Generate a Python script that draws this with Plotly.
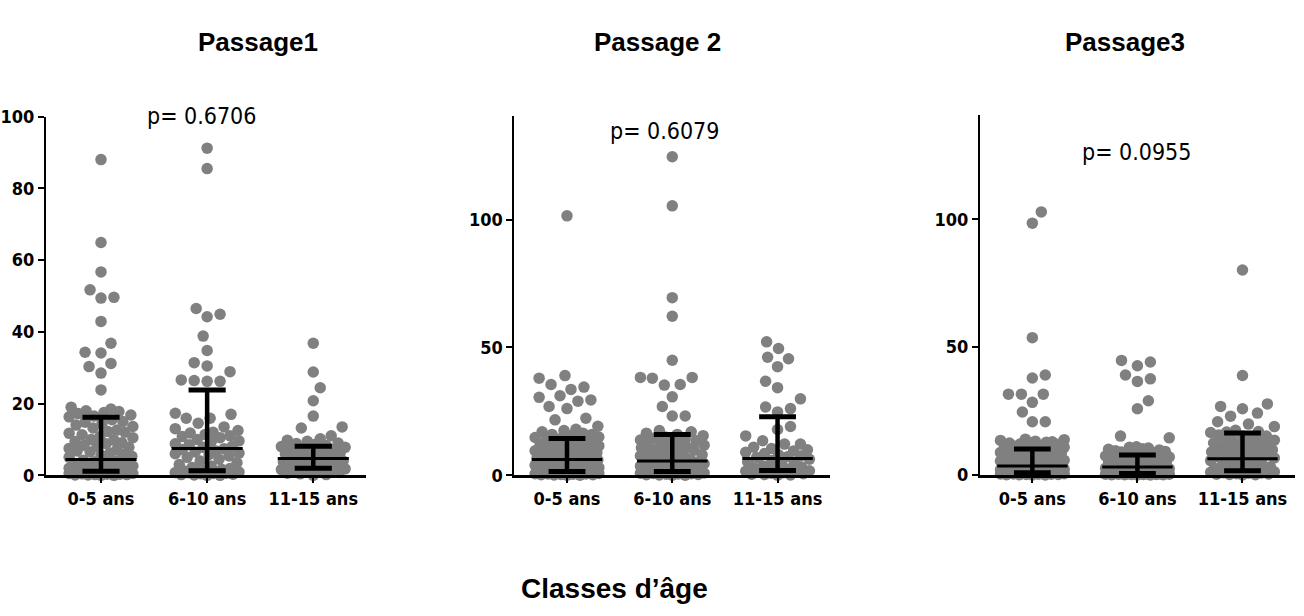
import numpy as np
import plotly.graph_objects as go

categories = ["0-5 ans", "6-10 ans", "11-15 ans"]
panel_titles = ["Passage1", "Passage 2", "Passage3"]
p_values = ["p= 0.6706", "p= 0.6079", "p= 0.0955"]
x_title = "Classes d’âge"

# ---- Passage 1 ----
p1_0_5 = [88.0, 64.9, 56.7, 51.7, 49.6, 49.4, 42.9, 36.8, 34.3, 34.1, 31.2, 30.3, 28.5, 23.8,
          19.0, 18.5, 18.0, 17.8, 17.5, 17.2, 16.8, 16.5, 16.3,
          15.5, 15.0, 14.8, 14.4, 14.0, 13.6, 13.2, 12.6, 12.2, 12.0, 11.7, 11.3, 10.8, 10.5, 10.0,
          9.8, 9.4, 9.1, 8.8, 8.4, 8.0, 7.8, 7.5, 7.1, 6.8, 6.5, 6.2, 5.9, 5.6, 5.3, 5.0,
          4.2, 4.0, 3.8, 3.5, 3.2, 3.0, 2.8, 2.6, 2.4, 2.2, 2.0, 1.9, 1.8, 1.6, 1.5, 1.4, 1.3, 1.2,
          1.0, 1.0, 0.9, 0.8, 0.8, 0.7, 0.6, 0.5, 0.5, 0.4, 0.3, 0.3, 0.2, 0.2, 0.1, 0.1, 0.0, 0.0]
p1_6_10 = [91.2, 85.5, 46.5, 44.9, 44.2, 38.8, 34.8, 31.4, 30.5, 28.9, 26.6, 26.4, 26.2, 26.2,
           17.3, 17.0, 15.9, 15.9, 14.5, 13.5, 13.0, 12.5, 12.0, 11.8, 11.4, 11.0, 10.8, 10.5, 10.0,
           9.6, 9.2, 8.8, 8.5, 8.0, 7.8, 7.4,
           7.2, 6.8, 6.5, 6.2, 6.0, 5.8, 5.4, 5.0, 4.5, 4.0, 3.5, 3.0, 2.6, 2.2, 1.9, 1.6, 1.4,
           1.2, 1.1, 1.0, 0.9, 0.8, 0.7, 0.6, 0.5, 0.4, 0.3, 0.2, 0.1, 0.0, 0.0]
p1_11_15 = [36.8, 28.8, 24.4, 20.8, 16.5, 13.5, 13.2, 11.0, 10.2, 9.8, 9.5, 9.0, 8.9, 8.6, 8.3,
            8.0, 7.8, 7.6, 7.5, 7.2, 7.0, 6.9, 6.5, 6.2, 6.0, 5.7, 5.4, 5.1, 4.9,
            4.5, 4.3, 4.0, 3.8, 3.5, 3.2, 3.0, 2.8, 2.6, 2.4, 2.2, 2.1,
            1.9, 1.8, 1.6, 1.5, 1.3, 1.1, 1.0, 0.8, 0.6, 0.4, 0.2, 0.0]

# ---- Passage 2 ----
p2_0_5 = [101.5, 39.0, 38.0, 35.5, 34.5, 33.6, 31.1, 30.5, 29.5, 29.0, 26.9, 26.1, 22.3, 21.7, 19.2,
          18.0, 17.5, 17.0, 16.5, 16.0, 16.0, 15.5, 15.0, 14.8,
          14.2, 13.8, 13.6, 13.3, 13.0, 12.8, 12.4, 12.2, 12.0, 11.5, 11.2, 11.0, 10.6, 10.4, 10.2,
          9.8, 9.6, 9.4, 9.0, 8.8, 8.5, 8.2, 8.0, 7.6, 7.4, 7.2, 7.0, 6.8, 6.4,
          6.0, 5.7, 5.4, 5.1, 4.8, 4.5, 4.2, 3.9, 3.6, 3.3, 3.0, 2.8, 2.6, 2.4, 2.2, 2.0, 1.8, 1.7, 1.6,
          1.4, 1.3, 1.2, 1.1, 1.0, 1.0, 0.9, 0.8, 0.7, 0.6, 0.5, 0.5, 0.4, 0.3, 0.2, 0.2, 0.1, 0.0, 0.0]
p2_6_10 = [124.6, 105.4, 69.5, 62.2, 45.0, 38.3, 38.3, 38.0, 35.5, 35.3, 30.7, 26.9, 23.2, 23.2,
           17.5, 17.0, 16.5, 16.0,
           15.5, 15.0, 14.6, 14.2, 13.8, 13.5, 13.0, 12.8, 12.4, 12.0, 11.8, 11.0, 10.8, 10.4, 10.0,
           9.8, 9.4, 9.0, 8.6, 8.4, 8.0, 7.6, 7.2, 7.0, 6.4, 5.9,
           5.4, 5.1, 4.8, 4.5, 4.2, 3.9, 3.6, 3.3, 3.0, 2.7, 2.4, 2.2, 2.0, 1.8, 1.7, 1.6,
           1.4, 1.3, 1.2, 1.1, 1.0, 0.9, 0.8, 0.7, 0.6, 0.5, 0.4, 0.3, 0.2, 0.1, 0.0, 0.0]
p2_11_15 = [52.2, 49.6, 46.2, 45.6, 42.5, 36.8, 34.3, 29.9, 26.7, 26.1, 24.8,
            19.1, 17.9, 15.4, 13.5, 12.2, 12.2, 11.0, 10.5, 10.0, 9.5, 9.0, 8.5, 8.0, 7.6, 7.3, 7.0,
            6.3, 5.8, 5.2, 4.7, 4.2, 3.7, 3.3, 2.9, 2.5, 2.2, 2.0,
            1.8, 1.6, 1.4, 1.2, 1.0, 0.8, 0.6, 0.4, 0.3, 0.1, 0.0]

# ---- Passage 3 ----
p3_0_5 = [102.9, 98.5, 53.7, 39.1, 37.9, 31.6, 31.6, 31.6, 28.4, 24.6, 20.8, 20.8,
          14.0, 13.8, 13.5, 13.2, 13.0, 12.8, 12.5, 12.2, 12.0, 11.8, 11.5, 11.2, 11.0, 10.8, 10.5, 10.2,
          10.0, 9.6, 9.4, 9.2, 8.8, 8.6, 8.4, 8.0, 7.8, 7.6, 7.2, 7.0, 6.8, 6.4, 6.2, 6.0, 5.7, 5.4, 5.1,
          4.8, 4.5, 4.2, 4.0, 3.8, 3.6,
          3.4, 3.2, 3.0, 2.9, 2.7, 2.5, 2.4, 2.2, 2.0, 1.9, 1.8, 1.6, 1.5, 1.4, 1.3, 1.2, 1.1, 1.0, 1.0, 0.95,
          0.9, 0.85, 0.8, 0.75, 0.7, 0.65, 0.6, 0.55, 0.5, 0.45, 0.4, 0.35, 0.3, 0.25, 0.2, 0.15, 0.1, 0.05, 0.0, 0.0]
p3_6_10 = [44.8, 44.2, 42.7, 39.1, 37.6, 36.6, 29.0, 25.9, 15.2, 14.5,
           11.0, 10.8, 10.5, 10.2, 10.0, 9.8, 9.5, 9.2, 9.0, 8.8, 8.5, 8.2, 8.0,
           7.6, 7.4, 7.3, 7.0, 6.8, 6.7, 6.4, 6.1, 6.0, 5.8, 5.5, 5.2, 4.9, 4.6, 4.3, 4.0, 3.8, 3.6, 3.4, 3.2,
           3.0, 2.8, 2.6, 2.4, 2.2, 2.0, 1.9, 1.7, 1.6, 1.4, 1.3, 1.2, 1.0, 0.9, 0.8, 0.7, 0.65,
           0.55, 0.5, 0.45, 0.4, 0.4, 0.35, 0.3, 0.3, 0.25, 0.2, 0.2, 0.15, 0.1, 0.1, 0.05, 0.0, 0.0]
p3_11_15 = [80.2, 38.9, 27.8, 26.8, 25.9, 24.2, 23.0, 20.8, 19.9, 18.9, 17.5, 17.0, 16.8, 16.6,
            15.6, 15.2, 15.2, 14.6, 14.0, 13.6, 13.2, 12.8, 12.5, 12.0, 11.8, 11.4, 11.0, 10.6, 10.3,
            9.8, 9.6, 9.2, 9.0, 8.6, 8.3, 8.0, 7.7, 7.4, 7.1, 6.6,
            6.0, 5.6, 5.2, 4.8, 4.4, 4.0, 3.6, 3.2, 2.9, 2.6, 2.3, 2.0, 1.8, 1.7,
            1.5, 1.4, 1.3, 1.2, 1.0, 0.9, 0.8, 0.7, 0.5, 0.4, 0.3, 0.2, 0.1, 0.0]

# Median and interquartile range
median_p1 = [4.4, 7.5, 4.7]
q1_p1 = [1.1, 1.3, 2.0]
q3_p1 = [16.2, 23.8, 8.1]
median_p2 = [6.2, 5.6, 6.6]
q1_p2 = [1.5, 1.5, 1.9]
q3_p2 = [14.4, 16.0, 22.9]
median_p3 = [3.5, 3.1, 6.3]
q1_p3 = [0.9, 0.6, 1.6]
q3_p3 = [10.1, 7.8, 16.4]

yticks_p1 = [0, 20, 40, 60, 80, 100]
yticks_p23 = [0, 50, 100]

panels = [
    dict(groups=[p1_0_5, p1_6_10, p1_11_15], med=median_p1, q1=q1_p1, q3=q3_p1, yticks=yticks_p1, ymax=100),
    dict(groups=[p2_0_5, p2_6_10, p2_11_15], med=median_p2, q1=q1_p2, q3=q3_p2, yticks=yticks_p23, ymax=140.7),
    dict(groups=[p3_0_5, p3_6_10, p3_11_15], med=median_p3, q1=q1_p3, q3=q3_p3, yticks=yticks_p23, ymax=140.7),
]

# ---------------- layout geometry (pixels) ----------------
W, H = 1304, 616
px_x = [(40, 362), (510.7, 828), (978.3, 1295)]
px_y = [(480.7, 109.3), (480.7, 108.3), (480.3, 108.0)]
xranges = [[-0.52, 2.50], [-0.50, 2.50], [-0.50, 2.50]]

def fx(p):
    return p / W

def fy(p):
    return (H - p) / H


def swarm_offsets(values, ppy, ppx, d=12.5, half_w=32, ystretch=0.8):
    """Deterministic beeswarm: x offsets (in axis units) computed from values."""
    vals = np.asarray(values, dtype=float)
    order = np.argsort(vals, kind="stable")
    cands = [0]
    for k in range(1, half_w + 1):
        cands += [k, -k] if k % 2 else [-k, k]
    placed = []
    offs = np.zeros(len(vals))
    for i in order:
        y = vals[i] * ppy
        near = [(px, py) for px, py in placed if abs(py - y) * ystretch < d]
        best_c, best_d = 0, -1.0
        chosen = None
        for c in cands:
            md = min((np.hypot(c - px, (y - py) * ystretch) for px, py in near), default=1e9)
            if md >= d:
                chosen = c
                break
            if md > best_d + 1e-9:
                best_d, best_c = md, c
        if chosen is None:
            chosen = best_c
        placed.append((chosen, y))
        offs[i] = chosen / ppx
    return offs


fig = go.Figure()
layout_axes = {}
tick_font = dict(family="Liberation Sans Narrow, Arial Narrow, DejaVu Sans Condensed, sans-serif",
                 size=18, color="black", weight="bold")
for pi, pan in enumerate(panels):
    sfx = "" if pi == 0 else str(pi + 1)
    xa, ya = "x" + sfx, "y" + sfx
    x0, x1 = px_x[pi]
    yb, yt = px_y[pi]
    ppx = (x1 - x0) / (xranges[pi][1] - xranges[pi][0])
    ppy = (yb - yt) / pan["ymax"]
    for gi, vals in enumerate(pan["groups"]):
        offs = swarm_offsets(vals, ppy, ppx)
        fig.add_trace(go.Scatter(
            x=gi + offs, y=vals, mode="markers", xaxis=xa, yaxis=ya,
            marker=dict(color="#808080", size=11.5, line=dict(width=0)),
            cliponaxis=False, showlegend=False, hoverinfo="y"))
    mx, my, cx, cy, vx, vy = [], [], [], [], [], []
    for gi in range(3):
        mx += [gi - 0.335, gi + 0.335, None]
        my += [pan["med"][gi], pan["med"][gi], None]
        for q in (pan["q1"][gi], pan["q3"][gi]):
            cx += [gi - 0.175, gi + 0.175, None]
            cy += [q, q, None]
        vx += [gi, gi, None]
        vy += [pan["q1"][gi], pan["q3"][gi], None]
    fig.add_trace(go.Scatter(x=vx, y=vy, mode="lines", xaxis=xa, yaxis=ya,
                             line=dict(color="black", width=4.5), cliponaxis=False,
                             showlegend=False, hoverinfo="skip"))
    fig.add_trace(go.Scatter(x=mx, y=my, mode="lines", xaxis=xa, yaxis=ya,
                             line=dict(color="black", width=3), cliponaxis=False,
                             showlegend=False, hoverinfo="skip"))
    fig.add_trace(go.Scatter(x=cx, y=cy, mode="lines", xaxis=xa, yaxis=ya,
                             line=dict(color="black", width=5), cliponaxis=False,
                             showlegend=False, hoverinfo="skip"))

    layout_axes["xaxis" + sfx] = dict(
        domain=[fx(x0), fx(x1)], range=xranges[pi], anchor=ya,
        tickvals=[0, 1, 2], ticktext=categories, ticks="outside", ticklen=5, tickwidth=1.5,
        tickcolor="black", showline=True, linecolor="black", linewidth=3,
        showgrid=False, zeroline=False, tickfont=tick_font, fixedrange=True)
    layout_axes["yaxis" + sfx] = dict(
        domain=[fy(yb), fy(yt)], range=[0, pan["ymax"]], anchor=xa,
        tickvals=pan["yticks"], ticks="outside", ticklen=6, tickwidth=2,
        tickcolor="black", showline=True, linecolor="black", linewidth=2,
        showgrid=False, zeroline=False, tickfont=tick_font, fixedrange=True)

annotations = []
title_pos = [(253, 32), (655, 32), (1124, 32)]
for t, (tx, ty) in zip(panel_titles, title_pos):
    annotations.append(dict(text=t, x=fx(tx), y=fy(ty), xref="paper", yref="paper",
                            showarrow=False, xanchor="center", yanchor="middle",
                            font=dict(family="Liberation Sans, Arial, sans-serif", size=26,
                                      color="black", weight="bold")))
p_pos = [(196, 109), (662, 124), (1136, 146)]
for t, (tx, ty) in zip(p_values, p_pos):
    annotations.append(dict(text=t, x=fx(tx), y=fy(ty), xref="paper", yref="paper",
                            showarrow=False, xanchor="center", yanchor="middle",
                            font=dict(family="Liberation Sans Narrow, Arial Narrow, DejaVu Sans Condensed, sans-serif",
                                      size=23, color="black")))
annotations.append(dict(text=x_title, x=fx(611), y=fy(598), xref="paper", yref="paper",
                        showarrow=False, xanchor="center", yanchor="middle",
                        font=dict(family="Liberation Sans, Arial, sans-serif", size=28,
                                  color="black", weight="bold")))

fig.update_layout(
    width=W, height=H, margin=dict(l=0, r=0, t=0, b=0),
    paper_bgcolor="white", plot_bgcolor="white",
    showlegend=False, annotations=annotations, **layout_axes)

fig.write_html("out.html",
               config={"displayModeBar": False},
               post_script="document.documentElement.style.margin='0px';"
                           "document.body.style.margin='0px';"
                           "document.body.style.padding='0px';"
                           "document.body.style.overflow='hidden';")
